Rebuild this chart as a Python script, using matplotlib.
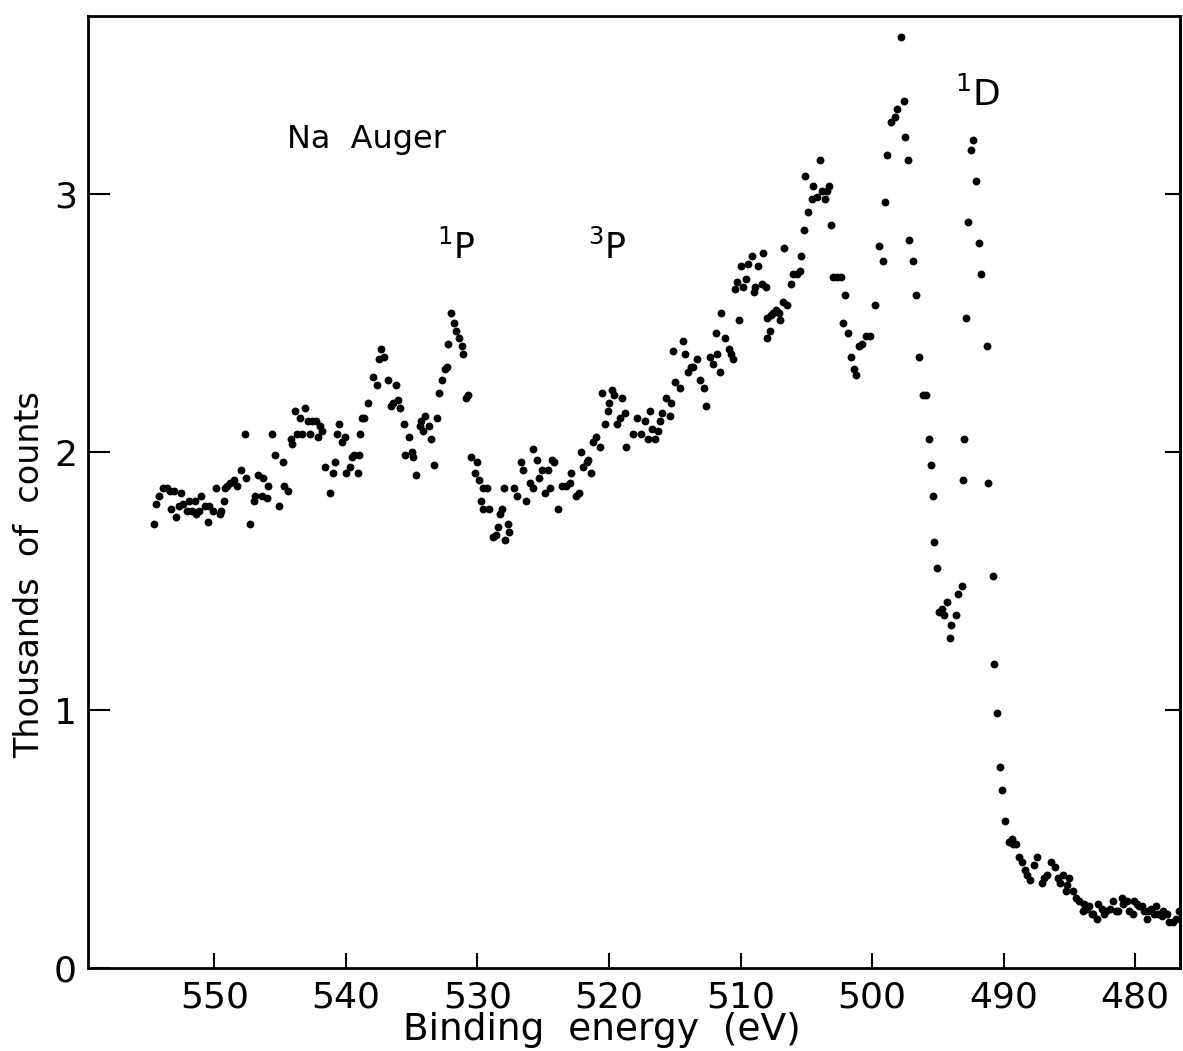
import numpy as np
import matplotlib.pyplot as plt

plt.rcParams['font.family'] = 'DejaVu Sans'
plt.rcParams['mathtext.default'] = 'regular'

# Na Auger spectrum (binding energy in eV, thousands of counts)
energy_a = [554.6, 554.4, 554.2, 553.9, 553.6, 553.4, 553.3, 553.1, 552.9, 552.7,
            552.5, 552.4, 552.1, 551.9, 551.7, 551.5, 551.4, 551.2, 551.0, 550.7,
            550.5, 550.4, 550.1, 549.9, 549.6, 549.5, 549.3, 549.2, 549.0, 548.8,
            548.5, 548.3, 548.0, 547.7, 547.6, 547.3, 547.0, 546.9, 546.7, 546.4,
            546.3, 546.0, 545.9, 545.6, 545.4, 545.1, 544.8, 544.7, 544.4, 544.2,
            544.1, 543.9, 543.7, 543.5, 543.3, 543.1, 542.9, 542.7, 542.6, 542.3,
            542.1, 542.0, 541.8, 541.6, 541.2, 541.0, 540.8, 540.7, 540.5, 540.3,
            540.1, 540.0, 539.7, 539.5, 539.4, 539.1, 539.0, 538.9, 538.8, 538.6,
            538.3]
counts_a = [1.72, 1.80, 1.83, 1.86, 1.86, 1.85, 1.78, 1.85, 1.75, 1.79,
            1.84, 1.80, 1.77, 1.81, 1.77, 1.81, 1.76, 1.77, 1.83, 1.79,
            1.73, 1.79, 1.77, 1.86, 1.76, 1.77, 1.81, 1.86, 1.87, 1.88,
            1.89, 1.87, 1.93, 2.07, 1.90, 1.72, 1.81, 1.83, 1.91, 1.83,
            1.90, 1.82, 1.87, 2.07, 1.99, 1.79, 1.96, 1.87, 1.85, 2.05,
            2.03, 2.16, 2.07, 2.13, 2.07, 2.17, 2.12, 2.07, 2.12, 2.12,
            2.06, 2.10, 2.08, 1.94, 1.84, 1.92, 1.96, 2.07, 2.11, 2.04,
            2.06, 1.92, 1.94, 1.98, 1.99, 1.92, 1.99, 2.07, 2.13, 2.13,
            2.19]

energy_b = [537.9, 537.6, 537.5, 537.3, 537.1, 536.8, 536.6, 536.4, 536.2, 536.0,
            535.9, 535.6, 535.5, 535.2, 535.0, 534.9, 534.7, 534.4, 534.3, 534.1,
            534.0, 533.7, 533.5, 533.3, 533.1, 532.9, 532.7, 532.5, 532.3, 532.2,
            532.0, 531.8, 531.6, 531.4, 531.2, 531.1, 530.9, 530.7, 530.5, 530.2,
            530.0, 529.9, 529.7, 529.6, 529.6, 529.3, 529.1, 528.8, 528.6, 528.4,
            528.3, 528.1, 528.0, 527.9, 527.7, 527.6, 527.2, 527.0, 526.7, 526.5,
            526.3, 526.0, 525.8, 525.8, 525.5, 525.3, 525.1, 524.9, 524.6, 524.5,
            524.3, 524.2, 523.9, 523.6, 523.3, 523.0, 522.9, 522.5, 522.3, 522.1,
            522.0, 521.7, 521.6, 521.4, 521.2, 521.0, 520.7]
counts_b = [2.29, 2.26, 2.36, 2.40, 2.37, 2.28, 2.18, 2.19, 2.26, 2.20,
            2.17, 2.11, 1.99, 2.06, 2.00, 1.98, 1.91, 2.10, 2.12, 2.08,
            2.14, 2.10, 2.05, 1.95, 2.13, 2.23, 2.28, 2.32, 2.33, 2.42,
            2.54, 2.50, 2.47, 2.44, 2.41, 2.38, 2.21, 2.22, 1.98, 1.92,
            1.96, 1.89, 1.81, 1.86, 1.78, 1.86, 1.78, 1.67, 1.68, 1.71,
            1.76, 1.78, 1.86, 1.66, 1.72, 1.69, 1.86, 1.83, 1.96, 1.93,
            1.81, 1.88, 1.86, 2.01, 1.97, 1.90, 1.93, 1.84, 1.93, 1.86,
            1.97, 1.96, 1.78, 1.87, 1.87, 1.88, 1.92, 1.83, 1.84, 2.00,
            1.94, 1.96, 1.97, 1.92, 2.04, 2.06, 2.02]

energy_c = [520.5, 520.3, 520.1, 520.0, 519.8, 519.6, 519.4, 519.2, 519.0, 518.8,
            518.7, 518.2, 517.9, 517.6, 517.3, 517.0, 516.9, 516.7, 516.5, 516.3,
            516.1, 516.0, 515.7, 515.4, 515.3, 515.1, 515.0, 514.6, 514.4, 514.2,
            514.0, 513.8, 513.6, 513.3, 513.1, 512.8, 512.6, 512.3, 512.1, 511.9,
            511.8, 511.6, 511.5, 511.2, 510.9, 510.7, 510.6, 510.4, 510.3, 510.1,
            510.0, 509.8, 509.6, 509.4, 509.1, 509.0, 508.9, 508.7, 508.4, 508.3,
            508.1, 508.0, 508.0, 507.8, 507.7, 507.5, 507.3, 507.1, 507.0, 506.8,
            506.7, 506.5, 506.2, 506.0, 505.7, 505.5, 505.4, 505.2, 505.1, 504.9,
            504.6, 504.5, 504.2, 504.0, 503.8, 503.6, 503.4, 503.3, 503.1, 503.0,
            502.7, 502.4, 502.2, 502.1, 501.8, 501.6, 501.4, 501.2, 501.0, 500.8,
            500.5, 500.2]
counts_c = [2.23, 2.11, 2.16, 2.19, 2.24, 2.22, 2.11, 2.13, 2.21, 2.15,
            2.02, 2.07, 2.13, 2.07, 2.12, 2.05, 2.16, 2.09, 2.05, 2.08,
            2.12, 2.15, 2.21, 2.14, 2.19, 2.39, 2.27, 2.25, 2.43, 2.38,
            2.31, 2.33, 2.33, 2.36, 2.28, 2.25, 2.18, 2.37, 2.34, 2.46,
            2.38, 2.31, 2.54, 2.44, 2.40, 2.38, 2.36, 2.63, 2.66, 2.51,
            2.72, 2.64, 2.67, 2.73, 2.76, 2.62, 2.64, 2.72, 2.65, 2.77,
            2.64, 2.52, 2.44, 2.47, 2.53, 2.54, 2.55, 2.54, 2.51, 2.58,
            2.79, 2.57, 2.65, 2.69, 2.69, 2.70, 2.76, 2.86, 3.07, 2.93,
            2.98, 3.03, 2.99, 3.13, 3.01, 2.98, 3.01, 3.03, 2.88, 2.68,
            2.68, 2.68, 2.50, 2.61, 2.46, 2.37, 2.32, 2.30, 2.41, 2.42,
            2.45, 2.45]

energy_d = [499.8, 499.5, 499.2, 499.0, 498.9, 498.6, 498.3, 498.1, 497.8, 497.6,
            497.5, 497.3, 497.2, 496.9, 496.7, 496.4, 496.1, 495.9, 495.7, 495.5,
            495.4, 495.3, 495.1, 494.9, 494.7, 494.5, 494.3, 494.1, 494.0, 493.6,
            493.5, 493.2, 493.1, 493.0, 492.9, 492.7, 492.5, 492.3, 492.1, 491.9,
            491.7, 491.3, 491.2, 490.8, 490.7, 490.5, 490.3, 490.1, 489.9, 489.6,
            489.4, 489.3, 489.1]
counts_d = [2.57, 2.80, 2.74, 2.97, 3.15, 3.28, 3.30, 3.33, 3.61, 3.36,
            3.22, 3.13, 2.82, 2.74, 2.61, 2.37, 2.22, 2.22, 2.05, 1.95,
            1.83, 1.65, 1.55, 1.38, 1.39, 1.37, 1.42, 1.28, 1.33, 1.37,
            1.45, 1.48, 1.89, 2.05, 2.52, 2.89, 3.17, 3.21, 3.05, 2.81,
            2.69, 2.41, 1.88, 1.52, 1.18, 0.99, 0.78, 0.69, 0.57, 0.49,
            0.50, 0.48, 0.48]

energy_e = [488.8, 488.6, 488.4, 488.2, 488.0, 487.7, 487.5, 487.1, 486.9, 486.7,
            486.4, 486.1, 485.9, 485.7, 485.5, 485.3, 485.2, 485.0, 484.7, 484.5,
            484.3, 484.0, 483.9, 483.7, 483.5, 483.3, 483.2, 482.9, 482.8, 482.5,
            482.4, 482.2, 481.9, 481.7, 481.5, 481.3, 481.0, 480.9, 480.6, 480.5,
            480.2, 480.1, 479.9, 479.7, 479.5, 479.3, 479.1, 479.0, 478.8, 478.6,
            478.4, 478.3, 478.0, 477.9, 477.6, 477.4, 477.1, 476.9, 476.7]
counts_e = [0.43, 0.41, 0.38, 0.36, 0.34, 0.40, 0.43, 0.33, 0.35, 0.36,
            0.41, 0.39, 0.35, 0.33, 0.36, 0.30, 0.32, 0.35, 0.30, 0.27,
            0.26, 0.22, 0.25, 0.23, 0.24, 0.21, 0.21, 0.19, 0.25, 0.23,
            0.21, 0.22, 0.23, 0.26, 0.22, 0.22, 0.27, 0.25, 0.26, 0.22,
            0.21, 0.26, 0.25, 0.24, 0.24, 0.22, 0.19, 0.22, 0.23, 0.21,
            0.24, 0.21, 0.20, 0.22, 0.21, 0.18, 0.18, 0.19, 0.22]

x_ticks = [550, 540, 530, 520, 510, 500, 490, 480]
y_ticks = [0, 1, 2, 3]

energy = np.array(energy_a + energy_b + energy_c + energy_d + energy_e)
counts = np.array(counts_a + counts_b + counts_c + counts_d + counts_e)
assert len(energy) == len(counts)

fig = plt.figure(figsize=(11.83, 10.51), dpi=100)
ax = fig.add_axes([88 / 1183, 83 / 1051, 1092 / 1183, 952 / 1051])

ax.scatter(energy, counts, s=32, c='black', linewidths=0, zorder=3)

ax.set_xlim(559.6, 476.6)
ax.set_ylim(0, 3.69)
ax.set_xticks(x_ticks)
ax.set_yticks(y_ticks)
ax.tick_params(axis='x', direction='in', length=11, width=1.5, labelsize=26, pad=9)
ax.tick_params(axis='y', direction='in', length=16, width=1.5, labelsize=26, pad=8)
for sp in ax.spines.values():
    sp.set_linewidth(2)

sec = ax.secondary_yaxis('right')
sec.set_yticks([1, 2, 3])
sec.tick_params(direction='in', length=11, width=1.5, labelright=False)
sec.spines['right'].set_linewidth(2)

ax.text(544.5, 3.21, 'Na  Auger', fontsize=23, ha='left', va='center')
ax.text(533.1, 2.75, r'$^{1}$P', fontsize=25, ha='left', va='baseline')
ax.text(521.6, 2.75, r'$^{3}$P', fontsize=25, ha='left', va='baseline')
ax.text(493.7, 3.34, r'$^{1}$D', fontsize=26, ha='left', va='baseline')

fig.text(602 / 1183, 1 - 1030 / 1051, 'Binding  energy  (eV)', ha='center', va='center', fontsize=27)
fig.text(30 / 1183, 1 - 575 / 1051, 'Thousands  of  counts', ha='center', va='center',
         rotation=90, fontsize=24)

fig.savefig('out.png', dpi=100)
